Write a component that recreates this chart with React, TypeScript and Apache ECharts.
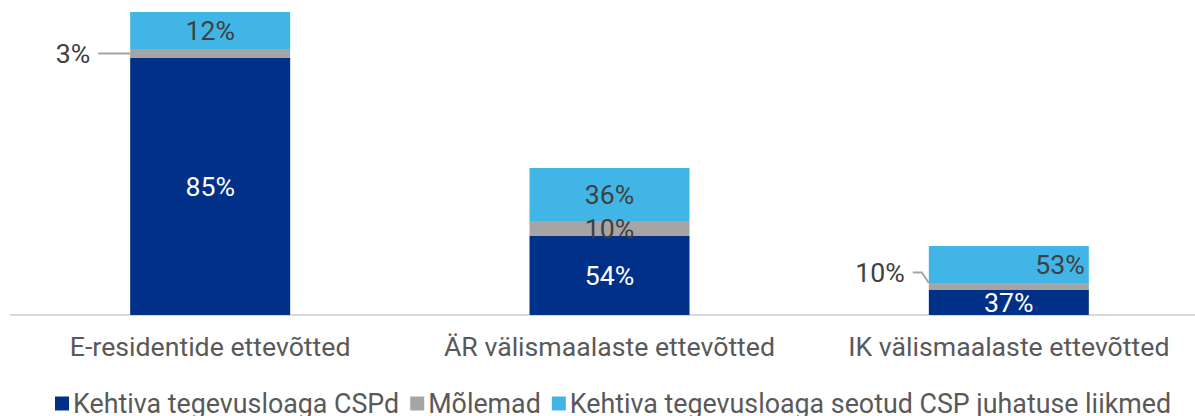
import React, { useEffect, useRef } from "react";
import * as echarts from "echarts";

const categories = ["E-residentide ettevõtted", "ÄR välismaalaste ettevõtted", "IK välismaalaste ettevõtted"];
const seriesNames = ["Kehtiva tegevusloaga CSPd", "Mõlemad", "Kehtiva tegevusloaga seotud CSP juhatuse liikmed"];
// relative bar segment sizes
const cspValues = [257, 79, 25];
const bothValues = [9, 15, 7];
const boardValues = [37, 53, 37];
// percentage labels shown on the segments
const cspLabels = ["85%", "54%", "37%"];
const bothLabels = ["3%", "10%", "10%"];
const boardLabels = ["12%", "36%", "53%"];

const FONT = "Roboto";
const TEXT = "#404040";
const FS = 26.67;

export default function App() {
  const ref = useRef<HTMLDivElement>(null);
  useEffect(() => {
    const chart = echarts.init(ref.current!, null, { renderer: "svg" });
    chart.setOption({
      animation: false,
      textStyle: { fontFamily: FONT },
      grid: {
        left: 10.5,
        width: 1198,
        top: 12,
        height: 303,
        containLabel: false,
        outerBoundsMode: "none",
      },
      legend: {
        top: 385,
        left: 50,
        itemWidth: 14,
        itemHeight: 14,
        itemGap: 11,
        icon: "rect",
        textStyle: { fontFamily: FONT, fontSize: 26.8, color: "#595959", padding: [0, 0, 0, -1] },
        data: seriesNames,
      },
      xAxis: {
        type: "category",
        data: categories,
        axisLine: { lineStyle: { color: "#D9D9D9", width: 2 } },
        axisTick: { show: false },
        axisLabel: { fontFamily: FONT, fontSize: FS, color: "#595959", margin: 18, interval: 0, hideOverlap: false },
      },
      yAxis: { type: "value", show: false, min: 0, max: 303, splitLine: { show: false } },
      series: [
        {
          name: seriesNames[0],
          type: "bar",
          stack: "a",
          barWidth: 160,
          itemStyle: { color: "#003087" },
          data: cspValues,
          label: {
            show: true,
            position: "inside",
            color: "#FFFFFF",
            fontSize: FS,
            fontFamily: FONT,
            formatter: (p: any) => cspLabels[p.dataIndex],
          },
        },
        {
          name: seriesNames[1],
          type: "bar",
          stack: "a",
          itemStyle: { color: "#A5A5A5" },
          data: bothValues.map((v, i) => ({
            value: v,
            label:
              i === 1
                ? { position: "inside", padding: 0 }
                : {
                    position: "left",
                    distance: i === 0 ? 32 : 16,
                    padding: [0, 8, 0, 0],
                    backgroundColor: "rgba(255,255,255,0)",
                  },
            labelLine: { show: i !== 1, length2: i === 2 ? 9 : 0 },
          })),
          label: {
            show: true,
            color: TEXT,
            fontSize: FS,
            fontFamily: FONT,
            formatter: (p: any) => bothLabels[p.dataIndex],
          },
          labelLayout: (p: any) => (p.dataIndex === 2 ? { dy: -14 } : {}),
          labelLine: { show: true, lineStyle: { color: "#A5A5A5", width: 2 } },
        },
        {
          name: seriesNames[2],
          type: "bar",
          stack: "a",
          itemStyle: { color: "#41B6E6" },
          data: boardValues.map((v, i) => ({
            value: v,
            label: i === 2 ? { position: "insideRight", distance: 4 } : { position: "inside" },
          })),
          label: {
            show: true,
            color: TEXT,
            fontSize: FS,
            fontFamily: FONT,
            formatter: (p: any) => boardLabels[p.dataIndex],
          },
        },
      ],
    });
    return () => chart.dispose();
  }, []);
  return <div ref={ref} style={{ position: "absolute", left: 0, top: 0, width: 1195, height: 416 }} />;
}
